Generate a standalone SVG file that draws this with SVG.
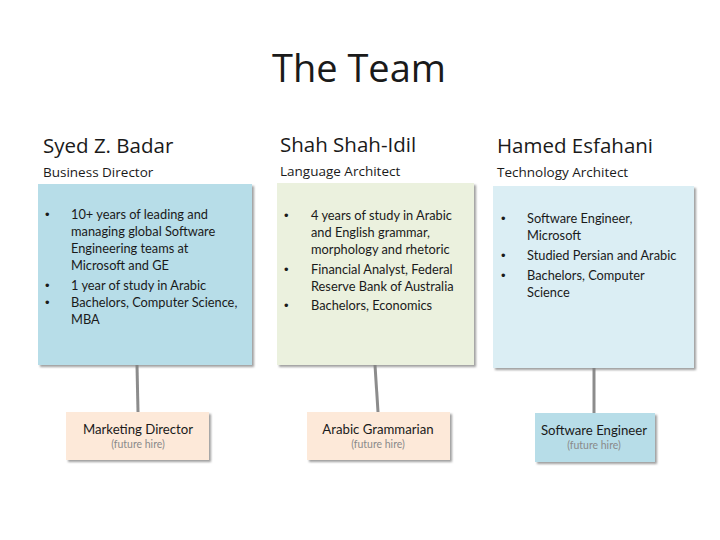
<svg xmlns="http://www.w3.org/2000/svg" width="720" height="540" viewBox="0 0 720 540">
  <defs>
    <filter id="shadow" x="-10%" y="-10%" width="125%" height="125%">
      <feDropShadow dx="2" dy="2" stdDeviation="1.2" flood-color="#7f7f7f" flood-opacity="0.75"/>
    </filter>
  </defs>
  <style>
    text { font-family: Lato, "Open Sans", "Liberation Sans", sans-serif; fill: #1a1a1a; }
    .title { font-family: "Open Sans", "Noto Sans", sans-serif; font-size: 38px; text-anchor: middle; }
    .name { font-family: "Open Sans", "Noto Sans", sans-serif; font-size: 20.5px; }
    .role { font-family: "Open Sans", "Noto Sans", sans-serif; font-size: 13.5px; }
    .body { font-size: 12.8px; }
    .dot { font-family: "Liberation Sans", sans-serif; font-size: 13px; }
    .card { filter: url(#shadow); }
    .hire { font-size: 13.2px; text-anchor: middle; }
    .note { font-size: 10.5px; text-anchor: middle; fill: #8a8a8a; }
    .link { stroke: #8c8c8c; stroke-width: 3; fill: none; }
  </style>

  <rect width="720" height="540" fill="#ffffff"/>

  <text class="title" x="359" y="82">The Team</text>

  <!-- links from each member to the planned hire below -->
  <g id="connectors">
    <line class="link" x1="137" y1="365" x2="138" y2="412"/>
    <line class="link" x1="375" y1="365" x2="378" y2="412"/>
    <line class="link" x1="594" y1="368" x2="594" y2="413"/>
  </g>

  <g id="syed">
    <text class="name" x="43" y="153">Syed Z. Badar</text>
    <text class="role" x="43" y="177">Business Director</text>
    <rect class="card" x="38" y="184" width="214" height="181" fill="#b7dde8"/>
    <text class="dot" x="45" y="219">•</text>
    <text class="body" x="71" y="219">10+ years of leading and</text>
    <text class="body" x="71" y="236">managing global Software</text>
    <text class="body" x="71" y="253">Engineering teams at</text>
    <text class="body" x="71" y="270">Microsoft and GE</text>
    <text class="dot" x="45" y="290">•</text>
    <text class="body" x="71" y="290">1 year of study in Arabic</text>
    <text class="dot" x="45" y="307">•</text>
    <text class="body" x="71" y="307">Bachelors, Computer Science,</text>
    <text class="body" x="71" y="324">MBA</text>
  </g>

  <g id="shah">
    <text class="name" x="280" y="152">Shah Shah-Idil</text>
    <text class="role" x="280" y="176">Language Architect</text>
    <rect class="card" x="277" y="183" width="197" height="182" fill="#ebf1de"/>
    <text class="dot" x="284" y="220">•</text>
    <text class="body" x="311" y="220">4 years of study in Arabic</text>
    <text class="body" x="311" y="237">and English grammar,</text>
    <text class="body" x="311" y="254">morphology and rhetoric</text>
    <text class="dot" x="284" y="274">•</text>
    <text class="body" x="311" y="274">Financial Analyst, Federal</text>
    <text class="body" x="311" y="291">Reserve Bank of Australia</text>
    <text class="dot" x="284" y="310">•</text>
    <text class="body" x="311" y="310">Bachelors, Economics</text>
  </g>

  <g id="hamed">
    <text class="name" x="497" y="153">Hamed Esfahani</text>
    <text class="role" x="497" y="177">Technology Architect</text>
    <rect class="card" x="493" y="186" width="201" height="182" fill="#dbeef4"/>
    <text class="dot" x="501" y="223">•</text>
    <text class="body" x="527" y="223">Software Engineer,</text>
    <text class="body" x="527" y="240">Microsoft</text>
    <text class="dot" x="501" y="260">•</text>
    <text class="body" x="527" y="260">Studied Persian and Arabic</text>
    <text class="dot" x="501" y="280">•</text>
    <text class="body" x="527" y="280">Bachelors, Computer</text>
    <text class="body" x="527" y="297">Science</text>
  </g>

  <g id="marketing-director">
    <rect class="card" x="66" y="412" width="143" height="48" fill="#fde9d9"/>
    <text class="hire" x="138" y="434">Marketing Director</text>
    <text class="note" x="138" y="448">(future hire)</text>
  </g>

  <g id="arabic-grammarian">
    <rect class="card" x="307" y="412" width="143" height="48" fill="#fde9d9"/>
    <text class="hire" x="378" y="434">Arabic Grammarian</text>
    <text class="note" x="378" y="448">(future hire)</text>
  </g>

  <g id="software-engineer">
    <rect class="card" x="535" y="413" width="120" height="49" fill="#b7dde8"/>
    <text class="hire" x="594" y="435">Software Engineer</text>
    <text class="note" x="594" y="449">(future hire)</text>
  </g>
</svg>
